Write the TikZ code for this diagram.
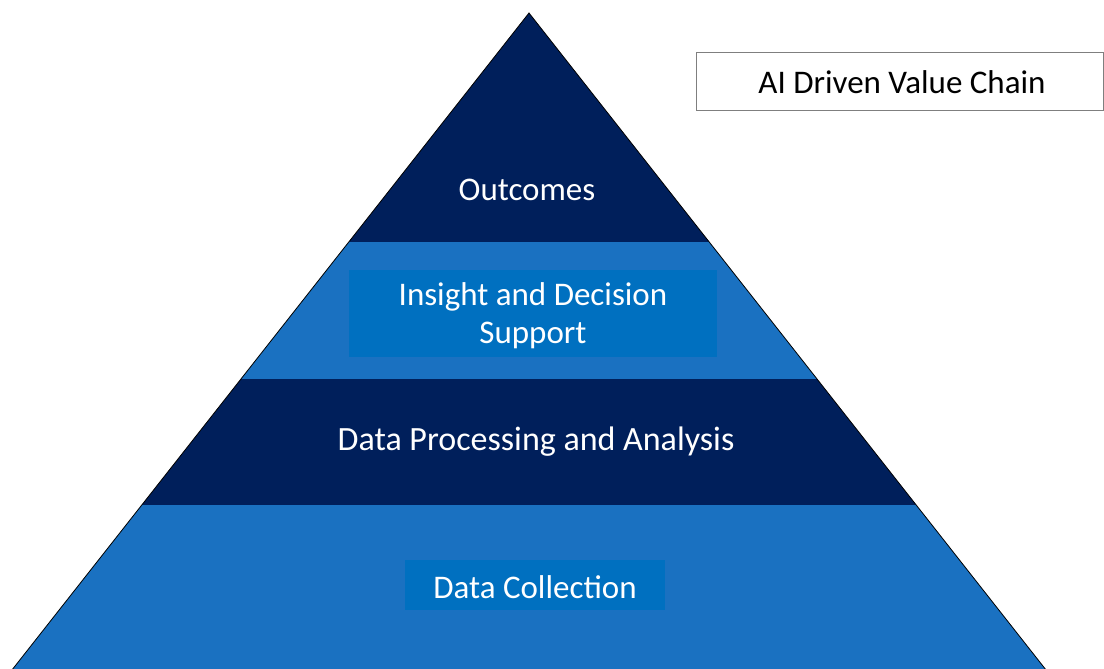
\documentclass[tikz,border=0pt]{standalone}
\usepackage{fontspec}
\setmainfont{Carlito}
\definecolor{navy}{RGB}{0,31,91}
\definecolor{band}{RGB}{26,113,193}
\definecolor{inner}{RGB}{0,112,192}
\definecolor{frame}{RGB}{127,127,127}
\begin{document}
\begin{tikzpicture}[x=1pt,y=-1pt,
  layertext/.style={text=white,font=\fontsize{33}{38}\selectfont,align=center,inner sep=0pt},
  innerbox/.style={fill=inner,draw=none,inner sep=0pt},
  titletext/.style={text=black,font=\fontsize{33}{38}\selectfont,inner sep=0pt}]
\useasboundingbox (0,0) rectangle (1104,669);
\clip (0,0) rectangle (1104,669);
% pyramid layers, top to bottom
\fill[navy] (529,13) -- (709.2,242) -- (348.8,242) -- cycle;
\fill[band] (348.8,242) -- (709.2,242) -- (817,379) -- (241,379) -- cycle;
\fill[navy] (241,379) -- (817,379) -- (916.2,505) -- (141.8,505) -- cycle;
\fill[band] (141.8,505) -- (916.2,505) -- (1050,675) -- (8,675) -- cycle;
% thin outline along the slanted sides
\draw[black,line width=0.8pt] (8,675) -- (529,13) -- (1050,675);
% highlighted boxes behind two labels
\fill[innerbox] (349,270) rectangle (717,357);
\fill[innerbox] (405,560) rectangle (665,610);
% labels
\node[layertext] (outcomes) at (527,190) {Outcomes};
\node[layertext] (insight) at (533,316) {Insight and Decision\\Support};
\node[layertext,font=\fontsize{34}{38}\selectfont] (processing) at (536,442) {Data Processing and Analysis};
\node[layertext] (collection) at (535,587) {Data Collection};
% title box
\draw[frame,line width=1.2pt] (696.5,52.5) rectangle (1103.4,110.5);
\node[titletext] (title) at (902,82) {AI Driven Value Chain};
\end{tikzpicture}
\end{document}
